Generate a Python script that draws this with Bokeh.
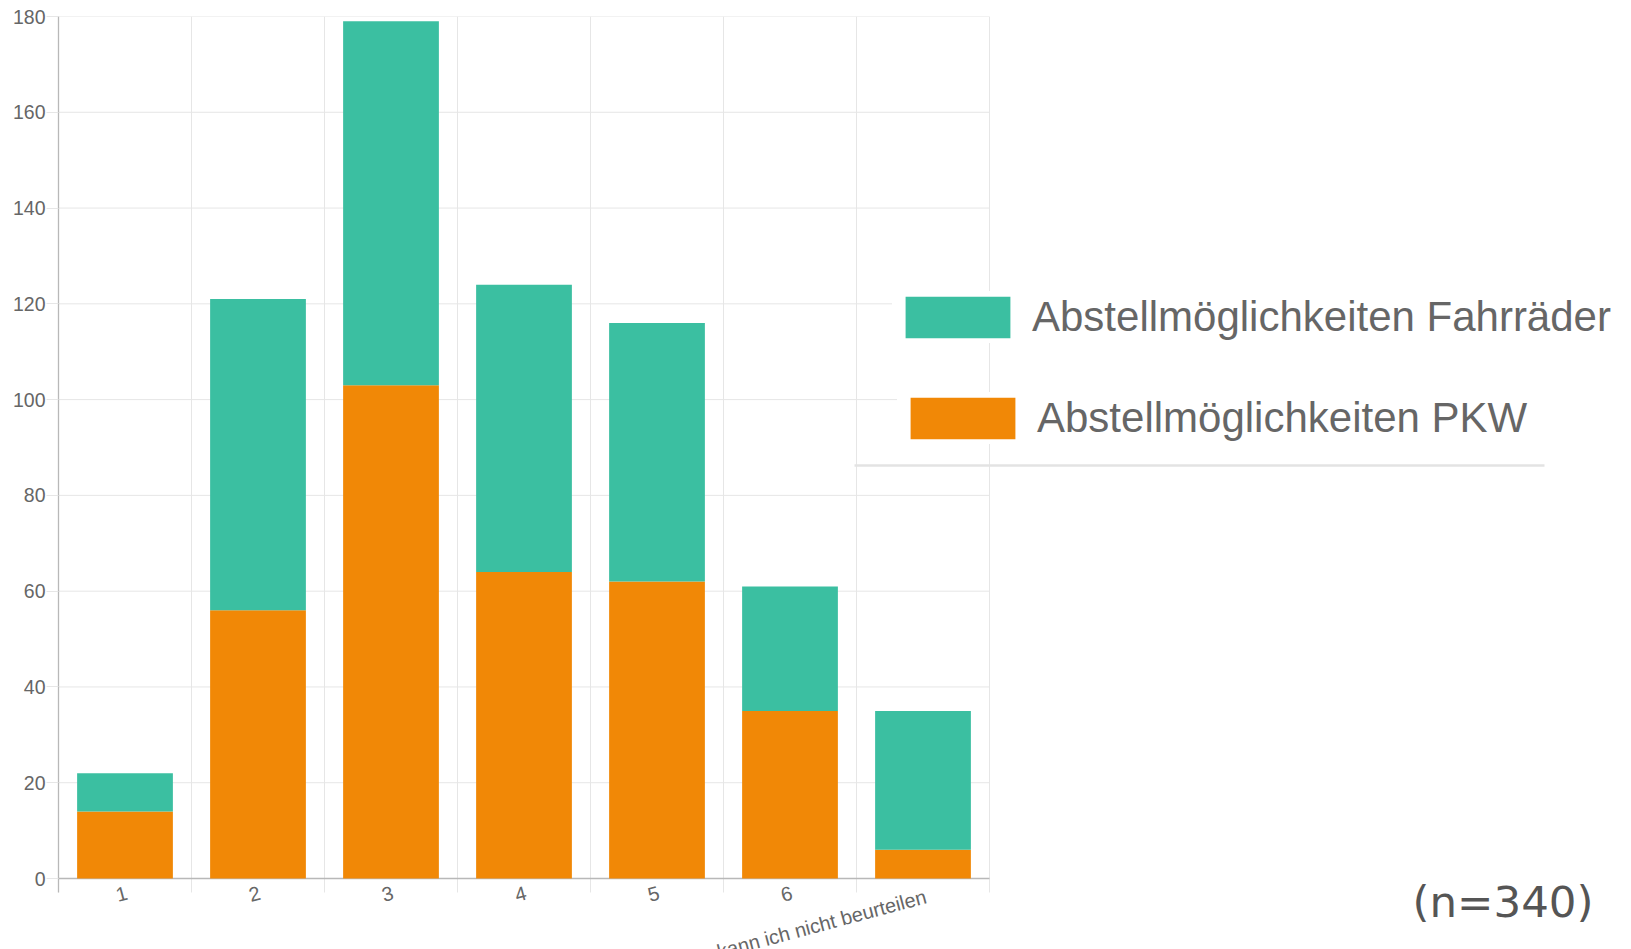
import math
from bokeh.plotting import figure
from bokeh.models import (ColumnDataSource, FixedTicker, Legend, LegendItem,
                          Label, LabelSet, Range1d)
from bokeh.embed import file_html
from bokeh.resources import INLINE
from bokeh.core.properties import value

# ---- data ----
categories = ["1", "2", "3", "4", "5", "6", "kann ich nicht beurteilen"]
pkw = [14, 56, 103, 64, 62, 35, 6]
fahrraeder = [8, 65, 76, 60, 54, 26, 29]
y_ticks = [0, 20, 40, 60, 80, 100, 120, 140, 160, 180]
series_names = ["Abstellmöglichkeiten Fahrräder", "Abstellmöglichkeiten PKW"]
note = "(n=340)"

TEAL = "#3bbfa1"
ORANGE = "#f18806"
GRID = "#e6e6e6"
AXIS = "#b8b8b8"
TXT = "#666666"

# ---- layout (pixels) ----
W, H = 1615, 949
LEFT, TOP = 58, 16            # plot area left / top
RIGHT_PX, ZERO_PX = 989, 878  # right edge of the category area, y of the zero line
TICK_PX = 14

n = len(categories)
ymax = max(y_ticks)
px_per_unit = (ZERO_PX - TOP) / ymax
cat_px = (RIGHT_PX - LEFT) / n
y_start = -(H - ZERO_PX) / px_per_unit
x_end = (W - LEFT) / cat_px
tick_units = TICK_PX / px_per_unit

centers = [i + 0.5 for i in range(n)]
bounds = list(range(n + 1))

src = ColumnDataSource(dict(x=centers, cat=categories, pkw=pkw,
                            fahrraeder=fahrraeder, zero=[0] * n))

p = figure(width=W, height=H, output_backend="svg", toolbar_location=None,
           x_range=Range1d(0, x_end), y_range=Range1d(y_start, ymax),
           x_axis_location=None,
           min_border_left=LEFT, min_border_right=0, min_border_top=TOP,
           min_border_bottom=0)
p.outline_line_color = None
p.background_fill_color = "white"
p.grid.visible = False

# grid lines (limited to the category area)
gy = y_ticks[1:]
p.segment(x0=[0] * len(gy), x1=[n] * len(gy), y0=gy, y1=gy,
          line_color=GRID, line_width=1)
p.segment(x0=bounds, x1=bounds, y0=[-tick_units] * len(bounds),
          y1=[ymax] * len(bounds), line_color=GRID, line_width=1)
# x axis line
p.segment(x0=[-12 / cat_px], x1=[n], y0=[0], y1=[0], line_color=AXIS, line_width=1.3)

rs = p.vbar_stack(["pkw", "fahrraeder"], x="x", width=0.72, source=src,
                  color=[ORANGE, TEAL], line_width=0)

# y axis
p.yaxis.ticker = FixedTicker(ticks=y_ticks)
p.yaxis.bounds = (-tick_units, ymax)
p.yaxis.major_tick_out = 12
p.yaxis.major_tick_in = 0
p.yaxis.minor_tick_out = 0
p.yaxis.minor_tick_in = 0
p.yaxis.major_tick_line_color = GRID
p.yaxis.axis_line_color = AXIS
p.yaxis.axis_line_width = 1.3
p.yaxis.major_label_standoff = 1
p.yaxis.major_label_text_font = "Liberation Sans"
p.yaxis.major_label_text_font_size = "19.5px"
p.yaxis.major_label_text_color = TXT

# category labels
labels = LabelSet(x="x", y="zero", text="cat", source=src,
                  angle=math.radians(15), text_align="right",
                  text_baseline="top", y_offset=-7,
                  text_font=value("Liberation Sans"), text_font_size="20px",
                  text_color=TXT)
p.add_layout(labels)

# legend (two boxes, as in the original screenshot)
legend_style = dict(orientation="vertical", glyph_width=131, glyph_height=52,
                    label_height=52, label_standoff=9, spacing=0, margin=0,
                    label_text_font="Liberation Sans",
                    label_text_font_size="42px", label_text_color=TXT,
                    border_line_color=None, background_fill_color="white",
                    background_fill_alpha=1.0)
leg1 = Legend(items=[LegendItem(label=series_names[0], renderers=[rs[1]])],
              location=(892 - LEFT, H - 343), padding=12, **legend_style)
leg2 = Legend(items=[LegendItem(label=series_names[1], renderers=[rs[0]])],
              location=(897 - LEFT, H - 444), padding=20, **legend_style)
p.add_layout(leg1)
p.add_layout(leg2)

# thin rule below the legend (part of the pasted legend graphic)
p.segment(x0=[(854 - LEFT) / cat_px], x1=[(1544 - LEFT) / cat_px],
          y0=[(ZERO_PX - 465) / px_per_unit], y1=[(ZERO_PX - 465) / px_per_unit],
          line_color="#e3e3e3", line_width=2.5)

p.add_layout(Label(x=1412 - LEFT, y=H - 901, x_units="screen", y_units="screen",
                   text=note, text_font="DejaVu Sans", text_font_size="43.5px",
                   text_color="#555555", text_baseline="middle"))

open("out.html", "w").write(file_html(p, INLINE))
